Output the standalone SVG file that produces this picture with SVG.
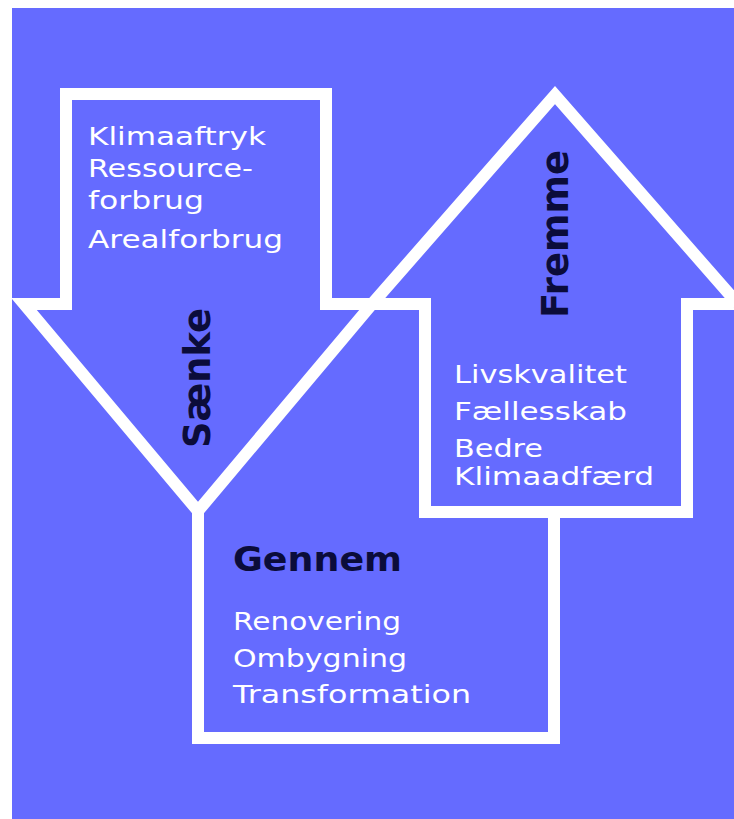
<svg xmlns="http://www.w3.org/2000/svg" width="734" height="819" viewBox="0 0 734 819">
  <style>
    .frame { fill: none; stroke: #ffffff; stroke-width: 12; stroke-linejoin: miter; stroke-miterlimit: 10; }
    .item { font-family: "DejaVu Sans", "Liberation Sans", sans-serif; font-size: 24px; fill: #ffffff; }
    .title { font-family: "DejaVu Sans", "Liberation Sans", sans-serif; font-weight: bold; fill: #0b0c3a; }
  </style>
  <defs>
    <clipPath id="bgclip">
      <rect x="12" y="8" width="722" height="811"/>
    </clipPath>
  </defs>
  <rect x="0" y="0" width="734" height="819" fill="#ffffff"/>
  <rect x="12" y="8" width="722" height="811" fill="#656bff"/>

  <g id="connectors" clip-path="url(#bgclip)"></g>

  <g id="saenke" clip-path="url(#bgclip)">
    <path class="frame" d="M66,94 H326 V304 H372 L198,511 L24,304 H66 Z"/>
    <text class="item" x="88" y="145" textLength="178" lengthAdjust="spacingAndGlyphs">Klimaaftryk</text>
    <text class="item" x="88" y="177" textLength="165" lengthAdjust="spacingAndGlyphs">Ressource-</text>
    <text class="item" x="88" y="209" textLength="116" lengthAdjust="spacingAndGlyphs">forbrug</text>
    <text class="item" x="88" y="248" textLength="195" lengthAdjust="spacingAndGlyphs">Arealforbrug</text>
    <text class="title" font-size="38" transform="translate(210,448) rotate(-90)" textLength="140" lengthAdjust="spacingAndGlyphs">Sænke</text>
  </g>

  <g id="fremme" clip-path="url(#bgclip)">
    <path class="frame" d="M425,512 H687 V304 H738 L555,95 L372,304 H425 Z"/>
    <text class="title" font-size="38" transform="translate(568,318) rotate(-90)" textLength="168" lengthAdjust="spacingAndGlyphs">Fremme</text>
    <text class="item" x="454" y="383" textLength="173" lengthAdjust="spacingAndGlyphs">Livskvalitet</text>
    <text class="item" x="454" y="420" textLength="173" lengthAdjust="spacingAndGlyphs">Fællesskab</text>
    <text class="item" x="454" y="457" textLength="89" lengthAdjust="spacingAndGlyphs">Bedre</text>
    <text class="item" x="454" y="485" textLength="200" lengthAdjust="spacingAndGlyphs">Klimaadfærd</text>
  </g>

  <g id="gennem" clip-path="url(#bgclip)">
    <path class="frame" d="M198,508 V738 H554 V512"/>
    <text class="title" font-size="33" x="233" y="571" textLength="169" lengthAdjust="spacingAndGlyphs">Gennem</text>
    <text class="item" x="233" y="630" textLength="168" lengthAdjust="spacingAndGlyphs">Renovering</text>
    <text class="item" x="233" y="667" textLength="174" lengthAdjust="spacingAndGlyphs">Ombygning</text>
    <text class="item" x="233" y="703" textLength="238" lengthAdjust="spacingAndGlyphs">Transformation</text>
  </g>
</svg>
